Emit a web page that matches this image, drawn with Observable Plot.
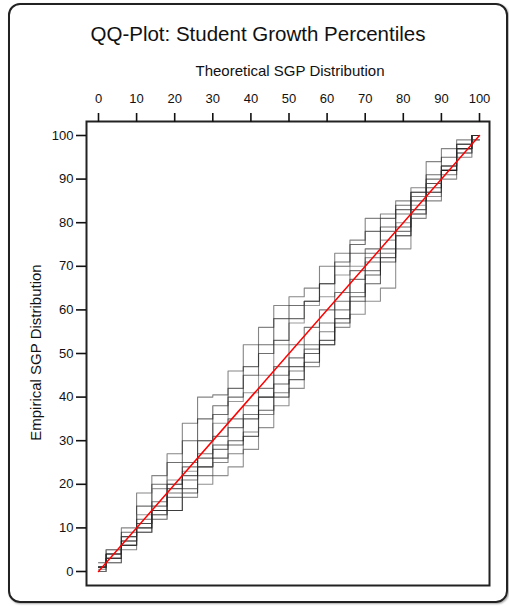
<!DOCTYPE html>
<html>
<head>
<meta charset="utf-8">
<script src="https://cdn.jsdelivr.net/npm/d3@7"></script>
<script src="https://cdn.jsdelivr.net/npm/@observablehq/plot@0.6"></script>
<style>
  html, body { margin: 0; padding: 0; background: #fff; }
  #wrap { position: relative; width: 509px; height: 606px; font-family: "Liberation Sans", Arial, sans-serif; color: #111; }
  #box { position: absolute; left: 8px; top: 3px; width: 496px; height: 596px; border: 2px solid #222; border-radius: 12px; box-shadow: 1px 1px 2px rgba(0,0,0,0.35); }
  #title { position: absolute; left: 8px; width: 500px; top: 22px; text-align: center; font-size: 20.5px; }
  #xlab { position: absolute; left: 90px; width: 400px; top: 62px; text-align: center; font-size: 15px; }
  #ylab { position: absolute; left: 35px; top: 353px; width: 300px; margin-left: -150px; margin-top: -9px; text-align: center; font-size: 15px; transform: rotate(-90deg); }
  #chart { position: absolute; left: 0; top: 0; }
</style>
</head>
<body>
<div id="wrap">
  <div id="box"></div>
  <div id="title">QQ-Plot: Student Growth Percentiles</div>
  <div id="xlab">Theoretical SGP Distribution</div>
  <div id="ylab">Empirical SGP Distribution</div>
  <div id="chart"></div>
</div>
<script>
const theoretical = [0,4,8,12,16,20,24,28,32,36,40,44,48,52,56,60,64,68,72,76,80,84,88,92,96,100];
const seriesA = [0.5,4,10,18,22,27,34,40,40.5,46,52,56,61,63,65,70,73,76,81,82,85,88,94,97,99,100];
const seriesB = [1,5,9,15,20,25,30,35,38,42,47,52,58,61,62,66,70,73,74,79,83,87,90,93,98,100];
const seriesC = [1,2,6,10,13,14,17,20,22,24,28,33,38,42,47,52,56,59,62,65,74,82,86,92,96,99];
const seriesD = [0,3,6,9,12,14,18,24,26,29,31,37,40,44,48,52,58,63,66,71,77,83,87,92,97,100];
const seriesE = [1,3,7,11,14,18,21,24,28,33,36,40,45,49,52,57,62,67,71,74,78,82,87,91,96,100];
const seriesF = [0,5,8,13,19,21,23,30,34,39,41,45,52,57,61,63,68,70,72,76,80,84,89,93,98,100];
const seriesG = [1,4,8,12,15,20,25,30,36,40,45,50,53,58,62,66,71,75,78,81,84,87,91,95,98,100];
const seriesH = [1,2,5,9,13,17,19,22,25,27,32,36,41,46,51,55,60,64,69,73,77,81,85,90,95,99];
const seriesI = [2,4,7,10,14,19,22,26,29,30,35,40,43,47,50,53,57,62,68,72,79,85,88,92,97,100];
const seriesJ = [1,3,6,11,16,20,24,27,31,35,38,42,47,52,56,60,64,69,73,78,82,86,89,93,97,100];
const seriesNames = ["A","B","C","D","E","F","G","H","I","J"];
const seriesValues = [seriesA,seriesB,seriesC,seriesD,seriesE,seriesF,seriesG,seriesH,seriesI,seriesJ];
const seriesShade = ["#444","#222","#555","#111","#333","#666","#222","#444","#111","#333"];
const refLine = [0,100];
const xTicks = [0,10,20,30,40,50,60,70,80,90,100];
const yTicks = [0,10,20,30,40,50,60,70,80,90,100];

const rows = [];
seriesNames.forEach((s, i) => {
  theoretical.forEach((t, j) => rows.push({series: s, shade: seriesShade[i], x: t, y: seriesValues[i][j]}));
});

const chart = Plot.plot({
  width: 509,
  height: 606,
  marginLeft: 86,
  marginRight: 20,
  marginTop: 121,
  marginBottom: 21,
  style: {fontFamily: "'Liberation Sans', Arial, sans-serif", fontSize: "13px", color: "#111", background: "transparent"},
  x: {domain: [0, 100], insetLeft: 12, insetRight: 10},
  y: {domain: [0, 100], insetTop: 14, insetBottom: 14},
  marks: [
    Plot.line(rows, {x: "x", y: "y", z: "series", stroke: "shade", strokeOpacity: 0.65, strokeWidth: 1.1, curve: "step"}),
    Plot.line(refLine, {x: d => d, y: d => d, stroke: "red", strokeWidth: 1.5}),
    Plot.frame({stroke: "#222", strokeWidth: 2}),
    Plot.axisX(xTicks, {anchor: "top", tickSize: 9, tickPadding: 10, strokeWidth: 1.6, label: null, fontSize: 13}),
    Plot.axisY(yTicks, {anchor: "left", tickSize: 10, tickPadding: 3, strokeWidth: 1.6, label: null, fontSize: 13})
  ]
});
document.getElementById("chart").appendChild(chart);
</script>
</body>
</html>
